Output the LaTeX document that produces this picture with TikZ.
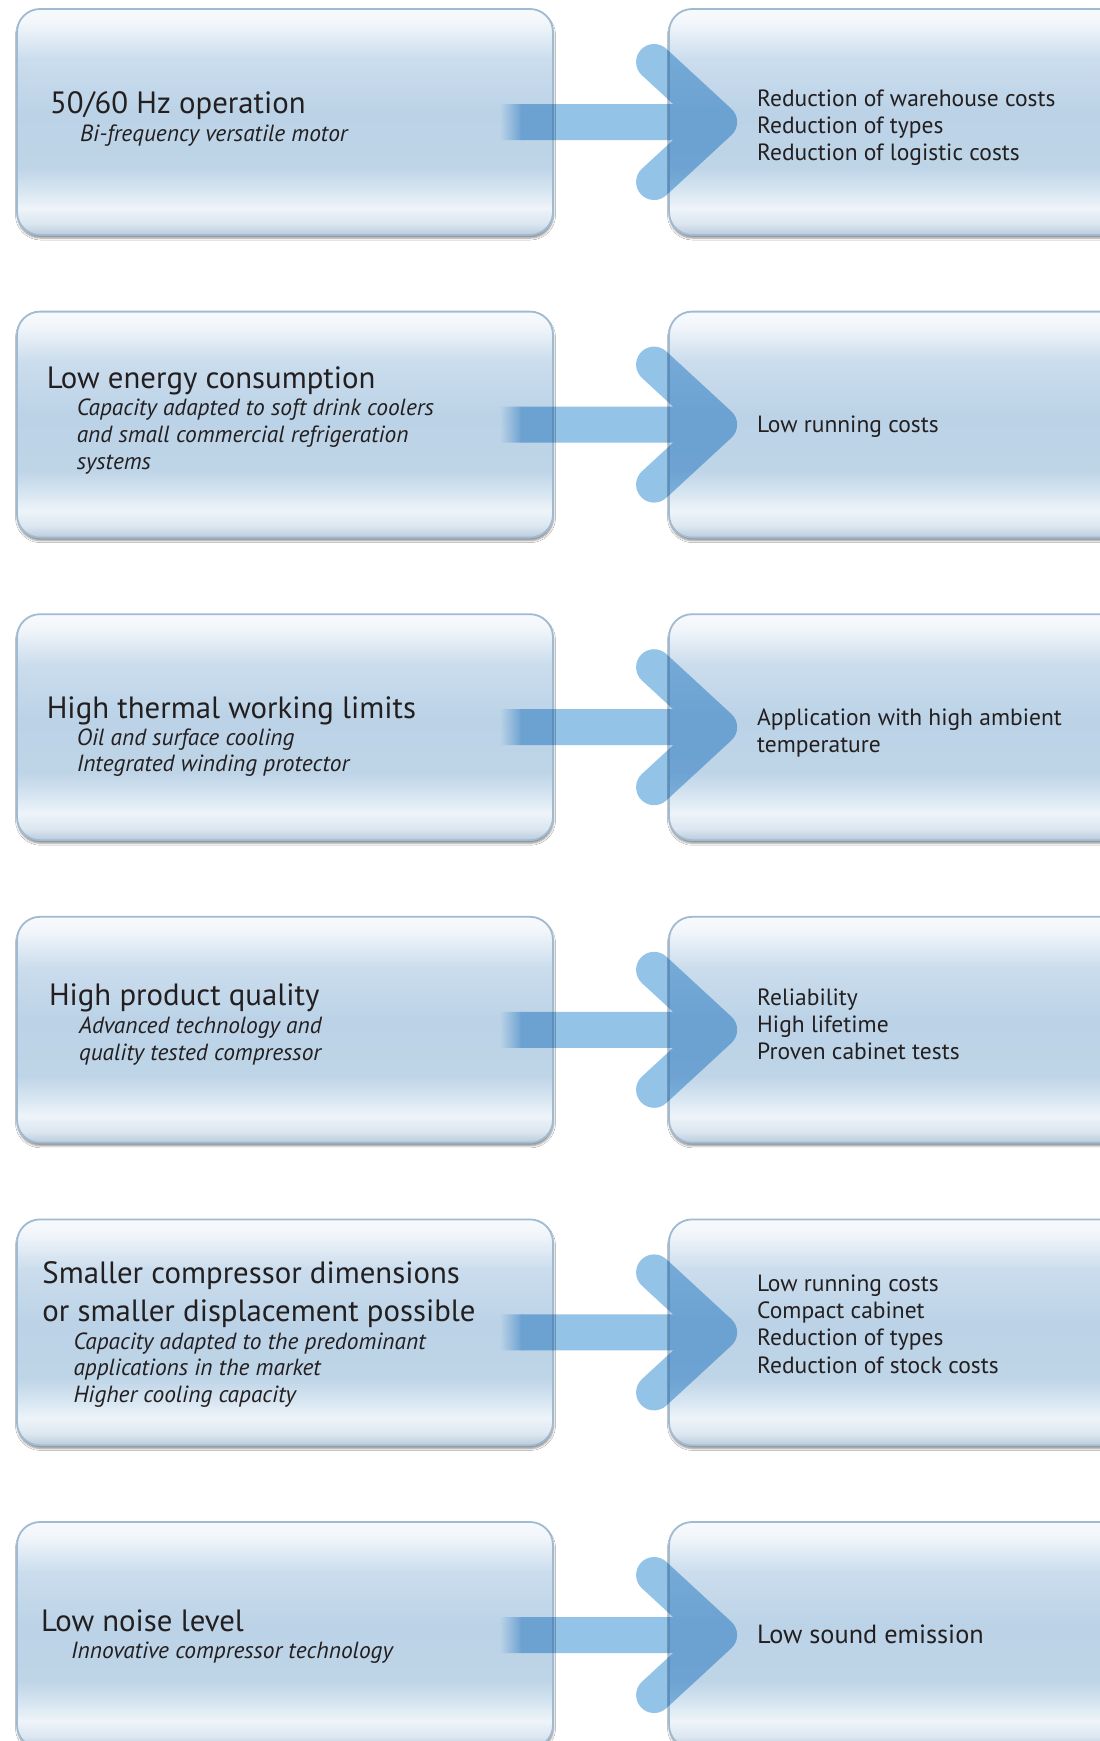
\documentclass[tikz,border=0pt]{standalone}
\usepackage{fontspec}
\setmainfont{PT Sans}
\usetikzlibrary{calc,fadings,shadows.blur}
\definecolor{txt}{HTML}{231F20}
\definecolor{boxborder}{HTML}{A0BAD2}
\definecolor{shadowc}{HTML}{7FA3C8}
\definecolor{arrowc}{HTML}{93C4E8}
\definecolor{b0}{HTML}{B9CBDC}
\definecolor{b1}{HTML}{DBE6F0}
\definecolor{b2}{HTML}{EEF4F9}
\definecolor{b3}{HTML}{D6E5F1}
\definecolor{b4}{HTML}{BED4E7}
\definecolor{b5}{HTML}{BCD3E7}
\definecolor{b6}{HTML}{CBDDED}
\definecolor{b7}{HTML}{F2F6FA}
\definecolor{b8}{HTML}{F7FAFD}
\pgfdeclareverticalshading{boxshade}{100bp}{color(0bp)=(b0); color(25bp)=(b0); color(27.5bp)=(b1); color(31bp)=(b2); color(35bp)=(b3); color(40bp)=(b4); color(52.5bp)=(b5); color(64bp)=(b6); color(72bp)=(b7); color(75bp)=(b8); color(100bp)=(b8)}
\tikzfading[name=shaftfade, left color=transparent!100, right color=transparent!0]
\tikzset{
  box/.style={draw=boxborder, line width=1.8pt, rounded corners=23pt, shade, shading=boxshade,
    minimum height=226pt, inner sep=0pt,
    blur shadow={shadow xshift=0.5pt, shadow yshift=-3pt, shadow blur radius=2pt,
      shadow opacity=45, fill=shadowc}},
  lbox/.style={box, minimum width=536pt},
  rbox/.style={box, minimum width=480pt},
  titletxt/.style={anchor=base west, inner sep=0pt, text=txt, font=\fontsize{30.8}{37.8}\selectfont},
  subtxt/.style={anchor=base west, inner sep=0pt, text=txt, font=\fontsize{23.4}{26.8}\selectfont\itshape},
  restxt/.style={anchor=base west, inner sep=0pt, text=txt, font=\fontsize{23.5}{27.2}\selectfont},
  bigres/.style={anchor=base west, inner sep=0pt, text=txt, font=\fontsize{26.3}{30}\selectfont},
}
\newcommand{\flowarrow}[2]{%
  \begin{scope}[blend mode=multiply]
  \begin{scope}[transparency group]
    \fill[arrowc, path fading=shaftfade] ($(#1.east)+(-54,-18)$) rectangle ($(#1.east)+(-32,18)$);
    \fill[arrowc] ($(#1.east)+(-33,-18)$) rectangle ($(#2.west)+(35,18)$);
    \draw[arrowc, line width=36pt, line cap=round, line join=round]
      ($(#2.west)+(-14,-60)$) -- ($(#2.west)+(51,0)$) -- ($(#2.west)+(-14,60)$);
  \end{scope}
  \end{scope}}
\begin{document}
\begin{tikzpicture}[x=1pt, y=-1pt]
\useasboundingbox (0,0) rectangle (1100,1741);
\clip (0,0) rectangle (1100,1741);
\fill[white] (0,0) rectangle (1100,1741);

% boxes
\node[lbox] (L1) at (285,122) {};
\node[rbox] (R1) at (909,122) {};
\node[lbox] (L2) at (285,424.6) {};
\node[rbox] (R2) at (909,424.6) {};
\node[lbox] (L3) at (285,727.2) {};
\node[rbox] (R3) at (909,727.2) {};
\node[lbox] (L4) at (285,1029.8) {};
\node[rbox] (R4) at (909,1029.8) {};
\node[lbox] (L5) at (285,1332.4) {};
\node[rbox] (R5) at (909,1332.4) {};
\node[lbox] (L6) at (285,1635) {};
\node[rbox] (R6) at (909,1635) {};

% arrows
\flowarrow{L1}{R1}
\flowarrow{L2}{R2}
\flowarrow{L3}{R3}
\flowarrow{L4}{R4}
\flowarrow{L5}{R5}
\flowarrow{L6}{R6}

% row 1
\node[titletxt] (t1) at (50,113.3) {50/60 Hz operation};
\node[subtxt] (s1) at (80,141.3) {Bi-frequency versatile motor};
\node[restxt] (r1) at (757,106) {\vtop{\hbox{Reduction of warehouse costs}\hbox{Reduction of types}\hbox{Reduction of logistic costs}}};

% row 2
\node[titletxt] (t2) at (46.6,388.6) {Low energy consumption};
\node[subtxt] (s2) at (76.6,415.5) {\vtop{\hbox{Capacity adapted to soft drink coolers}\hbox{and small commercial refrigeration}\hbox{systems}}};
\node[restxt] (r2) at (757,432) {Low running costs};

% row 3
\node[titletxt] (t3) at (46.6,718.2) {High thermal working limits};
\node[subtxt] (s3) at (76.6,745) {\vtop{\hbox{Oil and surface cooling}\hbox{Integrated winding protector}}};
\node[restxt] (r3) at (757,725.5) {\vtop{\hbox{Application with high ambient}\hbox{temperature}}};

% row 4
\node[titletxt] (t4) at (48.8,1005.7) {High product quality};
\node[subtxt] (s4) at (78.8,1033.7) {\vtop{\hbox{Advanced technology and}\hbox{quality tested compressor}}};
\node[restxt] (r4) at (757,1005) {\vtop{\hbox{Reliability}\hbox{High lifetime}\hbox{Proven cabinet tests}}};

% row 5
\node[titletxt] (t5) at (42.2,1283.5) {\vtop{\hbox{Smaller compressor dimensions}\hbox{or smaller displacement possible}}};
\node[subtxt] (s5) at (73.3,1349) {\vtop{\hbox{Capacity adapted to the predominant}\hbox{applications in the market}\hbox{Higher cooling capacity}}};
\node[restxt] (r5) at (757,1291.5) {\vtop{\hbox{Low running costs}\hbox{Compact cabinet}\hbox{Reduction of types}\hbox{Reduction of stock costs}}};

% row 6
\node[titletxt] (t6) at (41,1631) {Low noise level};
\node[subtxt] (s6) at (71,1658) {Innovative compressor technology};
\node[bigres] (r6) at (757,1643.5) {Low sound emission};
\end{tikzpicture}
\end{document}
